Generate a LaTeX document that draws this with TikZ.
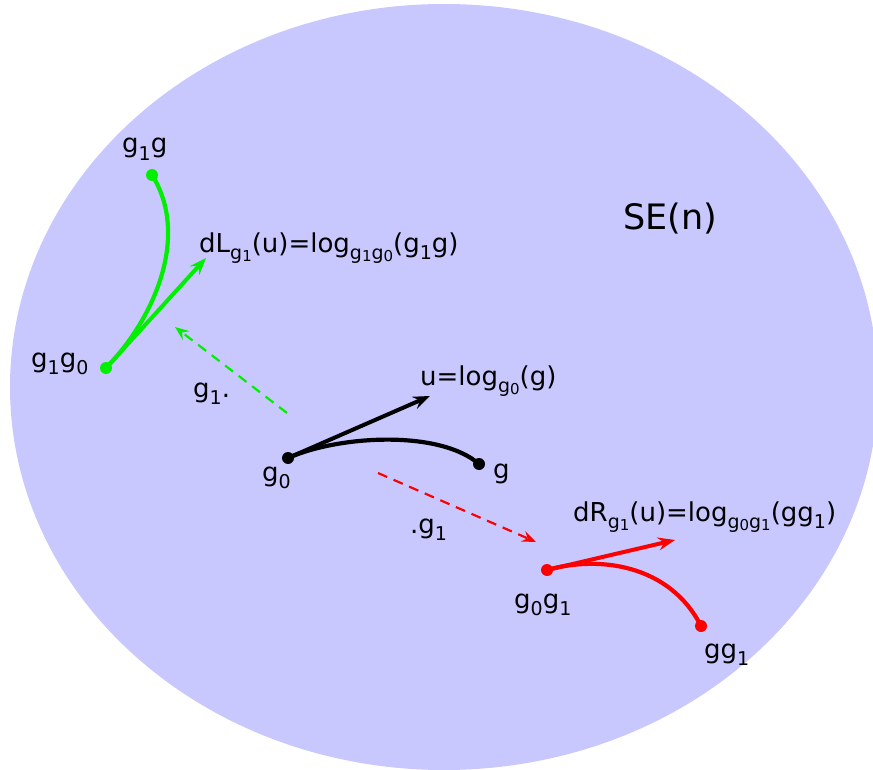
\documentclass[tikz,border=0pt]{standalone}
\usepackage{fontspec}
\setmainfont{DejaVu Sans}
\usetikzlibrary{arrows.meta}
\definecolor{bg}{RGB}{200,200,255}
\definecolor{grn}{RGB}{0,240,0}
\definecolor{rd}{RGB}{255,0,0}
\newcommand\lo[1]{\raisebox{-0.28em}{\fontsize{19}{19}\selectfont #1}}
\newcommand\llo[1]{\raisebox{-0.12em}{\fontsize{15}{15}\selectfont #1}}
\tikzset{
  lbl/.style={anchor=base west,inner sep=0pt,font=\fontsize{26}{30}\selectfont},
  curve/.style={line width=4.2pt,line cap=round},
  vec/.style={line width=4pt,-{Stealth[length=17pt,width=13pt,inset=6pt]}},
  dsh/.style={line width=2.2pt,dash pattern=on 10pt off 7pt,-{Stealth[length=14pt,width=11pt,inset=5pt]}},
  dot/.style={circle,fill,inner sep=0pt,minimum size=12pt}
}
\begin{document}
\begin{tikzpicture}[x=1pt,y=-1pt]
\useasboundingbox (0,0) rectangle (873,770);
\fill[bg] (444,387) ellipse [x radius=434,y radius=383];
\node[anchor=base west,inner sep=0pt,font=\fontsize{35}{40}\selectfont] (se) at (623,230) {SE(n)};
% black
\node[dot,black] (g0) at (288,458) {};
\node[dot,black] (g) at (479,464) {};
\coordinate (u) at (430,396);
\draw[curve,black] (g0.center) .. controls (340,435) and (440,430) .. (g.center);
\draw[vec,black] (g0.center) -- (u);
\node[lbl] (lu) at (420,385) {u=log\lo{g\llo{0}}(g)};
\node[lbl] (lg0) at (262,481) {g\lo{0}};
\node[lbl] (lg) at (493,478) {g};
% green
\node[dot,grn] (g1g0) at (106,368) {};
\node[dot,grn] (g1g) at (152,175) {};
\coordinate (dl) at (206,258);
\draw[curve,grn] (g1g0.center) .. controls (155,318) and (190,235) .. (g1g.center);
\draw[vec,grn] (g1g0.center) -- (dl);
\node[lbl] (ldl) at (199,252) {dL\lo{g\llo{1}}(u)=log\lo{g\llo{1}g\llo{0}}(g\lo{1}g)};
\node[lbl] (lg1g) at (122,153) {g\lo{1}g};
\node[lbl] (lg1g0) at (31,367) {g\lo{1}g\lo{0}};
\coordinate (gs) at (287,413);
\coordinate (ge) at (175,327);
\draw[dsh,grn] (gs) -- (ge);
\node[lbl] (lleft) at (193,397) {g\lo{1}.};
% red
\node[dot,rd] (g0g1) at (547,570) {};
\node[dot,rd] (gg1) at (701,626) {};
\coordinate (dr) at (675,540);
\draw[curve,rd] (g0g1.center) .. controls (600,555) and (670,565) .. (gg1.center);
\draw[vec,rd] (g0g1.center) -- (dr);
\node[lbl] (ldr) at (573,521) {dR\lo{g\llo{1}}(u)=log\lo{g\llo{0}g\llo{1}}(gg\lo{1})};
\node[lbl] (lg0g1) at (514,608) {g\lo{0}g\lo{1}};
\node[lbl] (lgg1) at (704,658) {gg\lo{1}};
\coordinate (rs) at (378,473);
\coordinate (re) at (536,542);
\draw[dsh,rd] (rs) -- (re);
\node[lbl] (lright) at (410,533) {.g\lo{1}};
\end{tikzpicture}
\end{document}
